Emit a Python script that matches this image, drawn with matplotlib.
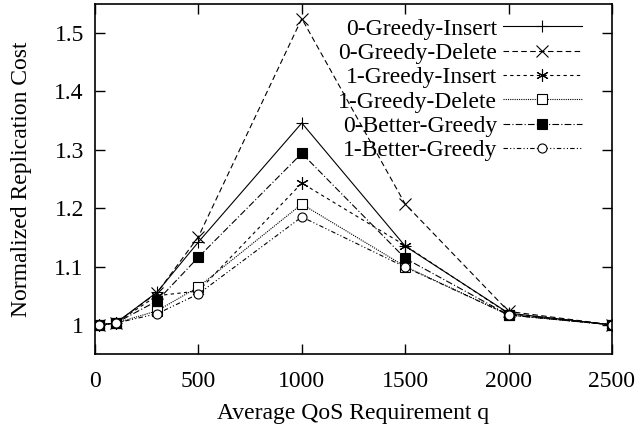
import matplotlib
matplotlib.use('Agg')
import matplotlib.pyplot as plt

plt.rcParams['font.family'] = ['Liberation Serif', 'DejaVu Serif']
plt.rcParams['font.size'] = 17

q = [20, 100, 300, 500, 1000, 1500, 2000, 2500]

greedy_insert_0 = [1.0, 1.003, 1.056, 1.142, 1.346, 1.135, 1.020, 1.0]
greedy_delete_0 = [1.0, 1.003, 1.055, 1.151, 1.525, 1.207, 1.023, 1.0]
greedy_insert_1 = [1.0, 1.003, 1.050, 1.058, 1.243, 1.136, 1.019, 1.0]
greedy_delete_1 = [1.0, 1.003, 1.024, 1.065, 1.207, 1.100, 1.017, 1.0]
better_greedy_0 = [1.0, 1.003, 1.041, 1.116, 1.294, 1.114, 1.017, 1.0]
better_greedy_1 = [1.0, 1.003, 1.019, 1.053, 1.185, 1.099, 1.017, 1.0]

labels = ['0-Greedy-Insert', '0-Greedy-Delete', '1-Greedy-Insert',
          '1-Greedy-Delete', '0-Better-Greedy', '1-Better-Greedy']
series = [greedy_insert_0, greedy_delete_0, greedy_insert_1,
          greedy_delete_1, better_greedy_0, better_greedy_1]

styles = [
    dict(ls='-', marker='+', ms=9, mfc='none'),
    dict(ls=(0, (5, 3)), marker='x', ms=8, mfc='none'),
    dict(ls=(0, (3, 3)), marker=(6, 2, 0), ms=9, mfc='none'),
    dict(ls=(0, (1, 1)), marker='s', ms=6.5, mfc='white'),
    dict(ls=(0, (6, 2, 1, 2)), marker='s', ms=7.5, mfc='black'),
    dict(ls=(0, (4, 2, 1, 2, 1, 2)), marker='o', ms=6.5, mfc='white'),
]

fig = plt.figure(figsize=(6.39, 4.33), dpi=100)
ax = fig.add_axes([0.1487, 0.1824, 0.8090, 0.8084])

for ys, lab, st in zip(series, labels, styles):
    ax.plot(q, ys, color='black', lw=0.8, mec='black', mew=0.8,
            label=lab, **st)

ax.set_xlim(0, 2500)
ax.set_ylim(0.95, 1.55)
ax.set_xticks([0, 500, 1000, 1500, 2000, 2500])
ax.set_yticks([1.0, 1.1, 1.2, 1.3, 1.4, 1.5])
ax.set_yticklabels(['1', '1.1', '1.2', '1.3', '1.4', '1.5'])
ax.tick_params(direction='in', top=True, right=True, length=7, width=1,
               pad=12)
ax.tick_params(axis='y', pad=8)
for s in ax.spines.values():
    s.set_linewidth(1.2)

ax.set_xlabel('Average QoS Requirement q', labelpad=8)
ax.set_ylabel('Normalized Replication Cost', labelpad=16)

leg = ax.legend(loc='upper right', bbox_to_anchor=(0.942, 0.96),
                frameon=False, markerfirst=False,
                handlelength=3.35, labelspacing=0.12, handletextpad=0.25,
                borderaxespad=0, borderpad=0, fontsize=17)

fig.savefig('out.png', dpi=100)
